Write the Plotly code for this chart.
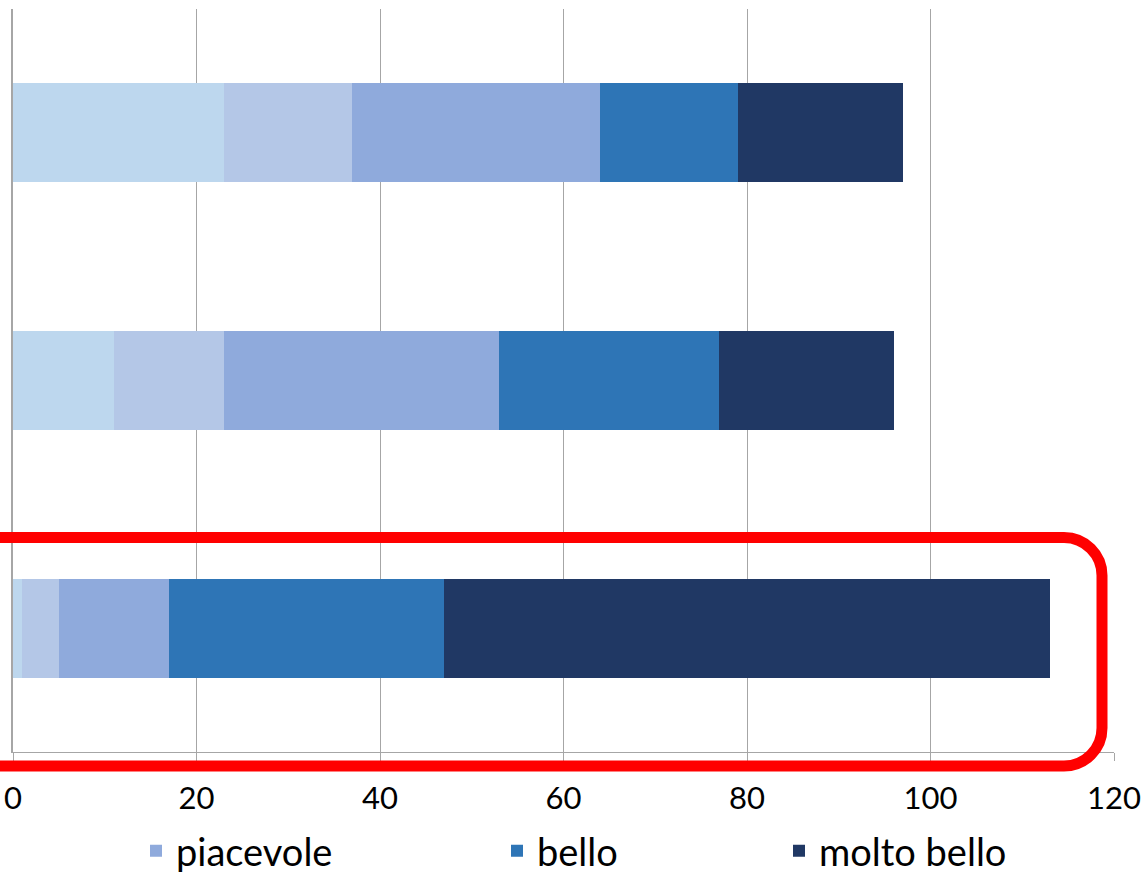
import plotly.graph_objects as go

# ---- data (categories listed bottom to top) ----
categories = ["Gruppo C", "Gruppo B", "Gruppo A"]
series_names = ["per niente piacevole", "poco piacevole", "piacevole", "bello", "molto bello"]
per_niente_piacevole = [1, 11, 23]
poco_piacevole = [4, 12, 14]
piacevole = [12, 30, 27]
bello = [30, 24, 15]
molto_bello = [66, 19, 18]
series_values = [per_niente_piacevole, poco_piacevole, piacevole, bello, molto_bello]
colors = ["#BDD7EE", "#B4C7E7", "#8FAADC", "#2E75B6", "#203864"]
x_ticks = [0, 20, 40, 60, 80, 100, 120]

# ---- geometry (body margin removed via post_script) ----
W, H = 1147, 872
L, R, T, B = 13, 33, 9, 120
PW, PH = W - L - R, H - T - B


def X(p):
    """page pixel x -> paper x"""
    return (p - L) / PW


def Y(p):
    """page pixel y -> paper y"""
    return (H - B - p) / PH


FONT = "Lato, Carlito, Calibri, sans-serif"

fig = go.Figure()
legend_ids = [None, None, "legend", "legend2", "legend3"]
for name, vals, col, lid in zip(series_names, series_values, colors, legend_ids):
    kw = dict(showlegend=False) if lid is None else dict(showlegend=True, legend=lid)
    fig.add_trace(go.Bar(
        y=categories, x=vals, name=name, orientation="h",
        marker=dict(color=col, line=dict(width=0)), **kw))

legend_common = dict(
    orientation="h", bgcolor="rgba(0,0,0,0)", borderwidth=0,
    font=dict(family=FONT, size=38, color="#000000"),
    xanchor="left", yanchor="middle")
icon_centers = [156, 517, 799]
legend_y = 851

fig.update_layout(
    width=W, height=H,
    margin=dict(l=L, r=R, t=T, b=B, autoexpand=False),
    paper_bgcolor="white", plot_bgcolor="white",
    barmode="stack", bargap=0.6,
    font=dict(family=FONT, color="#000000"),
    legend=dict(x=X(icon_centers[0] - 20), y=Y(legend_y), **legend_common),
    legend2=dict(x=X(icon_centers[1] - 20), y=Y(legend_y), **legend_common),
    legend3=dict(x=X(icon_centers[2] - 20), y=Y(legend_y), **legend_common),
    xaxis=dict(
        range=[0, 120], tickvals=x_ticks, ticktext=[str(v) for v in x_ticks],
        showgrid=True, gridcolor="#A6A6A6", gridwidth=1,
        showline=True, linecolor="#A6A6A6", linewidth=1,
        ticks="outside", ticklen=8, tickcolor="#A6A6A6", tickwidth=1,
        ticklabelstandoff=11, ticklabeloverflow="allow",
        tickfont=dict(family=FONT, size=31, color="#000000"),
        zeroline=False, fixedrange=True),
    yaxis=dict(
        type="category", categoryorder="array", categoryarray=categories,
        range=[-0.5, 2.5], showgrid=False, zeroline=False,
        showline=True, linecolor="#A6A6A6", linewidth=2,
        showticklabels=False, ticks="", fixedrange=True),
)

# red rounded highlight frame around the bottom bar (left side runs off the page)
xr, yt, yb, r, k, xl = 1102, 537.5, 766, 38, 0.5523, -30
path = (
    f"M {X(xl)},{Y(yt)} L {X(xr - r)},{Y(yt)} "
    f"C {X(xr - r + k * r)},{Y(yt)} {X(xr)},{Y(yt + r - k * r)} {X(xr)},{Y(yt + r)} "
    f"L {X(xr)},{Y(yb - r)} "
    f"C {X(xr)},{Y(yb - r + k * r)} {X(xr - r + k * r)},{Y(yb)} {X(xr - r)},{Y(yb)} "
    f"L {X(xl)},{Y(yb)}"
)
fig.add_shape(type="path", path=path, xref="paper", yref="paper",
              line=dict(color="#FF0000", width=11), fillcolor="rgba(0,0,0,0)",
              layer="above")

fig.write_html(
    "out.html",
    config={"displayModeBar": False},
    post_script="document.body.style.margin='0';document.body.style.overflow='hidden';",
)
